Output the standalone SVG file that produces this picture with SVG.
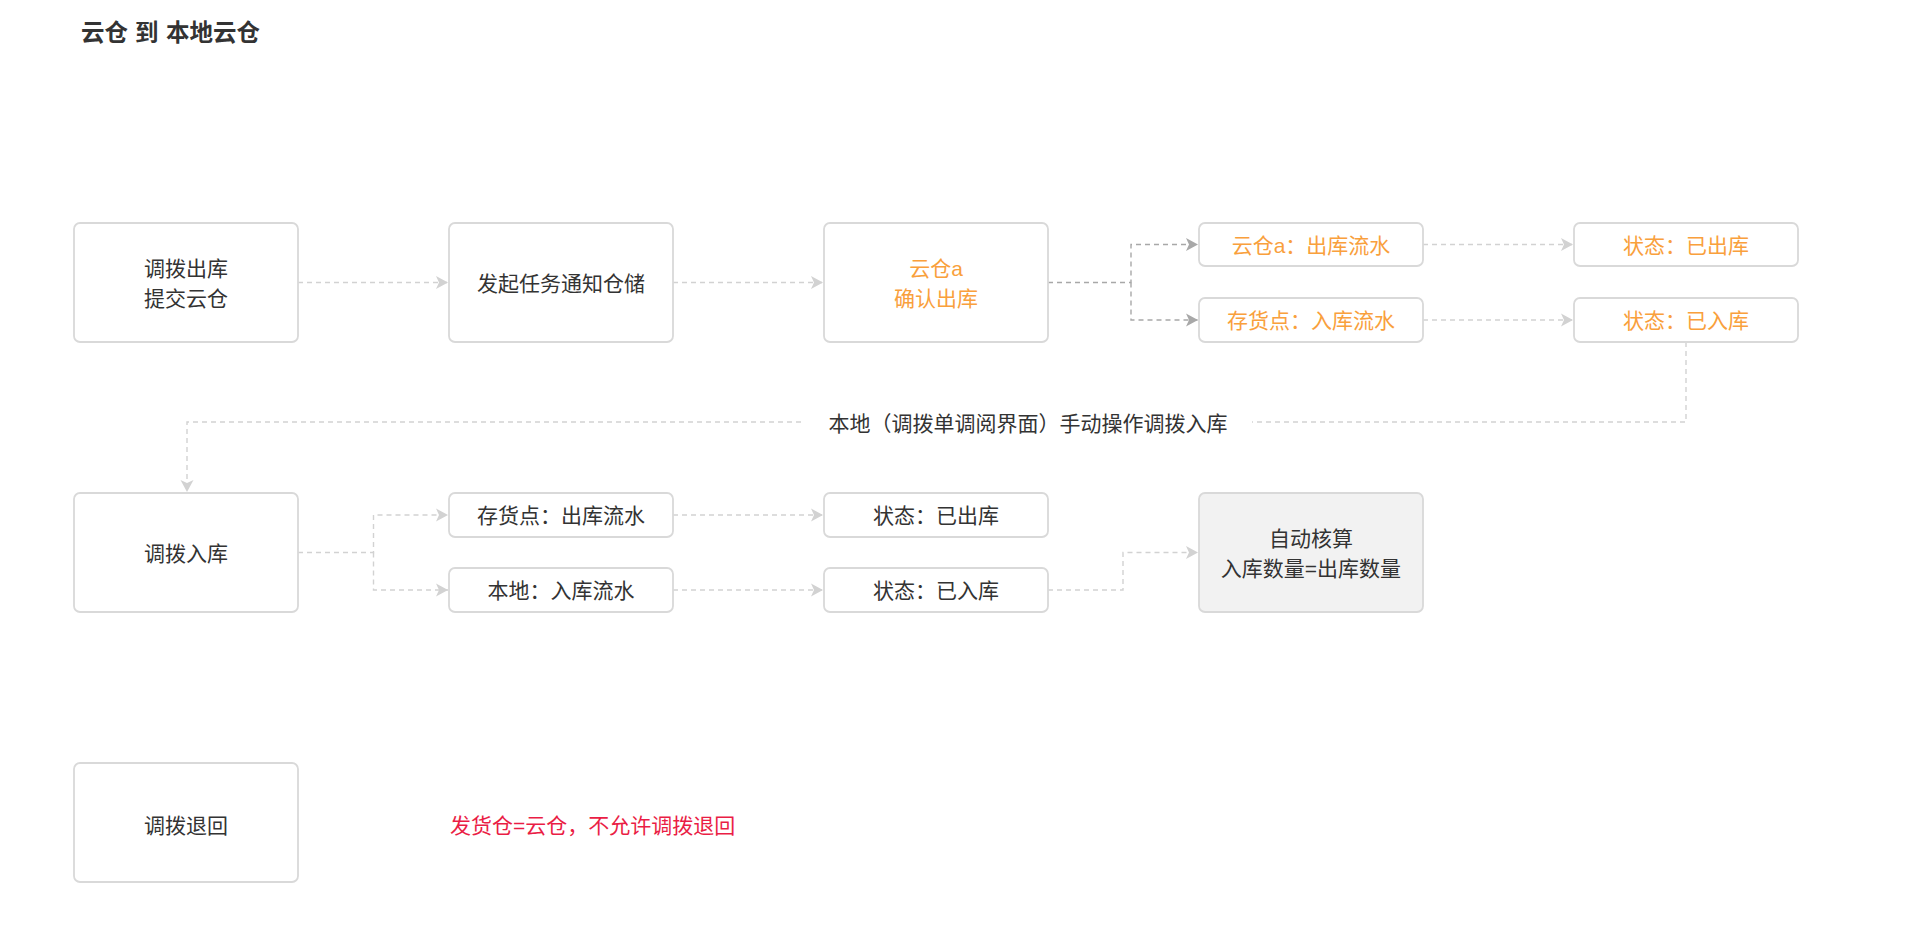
<svg xmlns="http://www.w3.org/2000/svg" width="1906" height="943" viewBox="0 0 1906 943">
<style>
text{font-family:'Liberation Sans','Noto Sans CJK SC',sans-serif;font-size:21px;fill:#333;text-anchor:middle;dominant-baseline:central}
.title{font-size:23.5px;font-weight:bold;text-anchor:start;fill:#333}
.box{fill:#fff;stroke:#d9d9d9;stroke-width:1.8}
.gray{fill:#f2f2f2}
.or{fill:#f9a03c}
.red{fill:#ea1d45;text-anchor:start}
.ln{fill:none;stroke:#d2d2d2;stroke-width:1.4;stroke-dasharray:5 4}
.dk{stroke:#a8a8a8}
</style>
<defs>
<marker id="al" markerUnits="userSpaceOnUse" markerWidth="14" markerHeight="14" refX="12" refY="7" orient="auto">
<path d="M0,0.5 L12,7 L0,13.5 L3,7 Z" fill="#d2d2d2"/>
</marker>
<marker id="ad" markerUnits="userSpaceOnUse" markerWidth="14" markerHeight="14" refX="12" refY="7" orient="auto">
<path d="M0,0.5 L12,7 L0,13.5 L3,7 Z" fill="#a8a8a8"/>
</marker>
</defs>
<rect width="1906" height="943" fill="#fff"/>
<g id="title">
<text class="title" x="81" y="33">云仓</text>
<text class="title" x="135" y="33">到</text>
<text class="title" x="166" y="33">本地云仓</text>
</g>
<g id="connectors">
<path class="ln" d="M298 282.5 H448" marker-end="url(#al)"/>
<path class="ln" d="M673 282.5 H823" marker-end="url(#al)"/>
<path class="ln dk" d="M1048 282.5 H1131 V244.5 H1198" marker-end="url(#ad)"/>
<path class="ln dk" d="M1131 282.5 V320 H1198" marker-end="url(#ad)"/>
<path class="ln" d="M1423 244.5 H1573" marker-end="url(#al)"/>
<path class="ln" d="M1423 320 H1573" marker-end="url(#al)"/>
<path class="ln" d="M1686 342 V422 H1252"/>
<path class="ln" d="M801 422 H187 V492" marker-end="url(#al)"/>
<text x="1028" y="423">本地（调拨单调阅界面）手动操作调拨入库</text>
<path class="ln" d="M298 552.5 H373.5 V515 H448" marker-end="url(#al)"/>
<path class="ln" d="M373.5 552.5 V590 H448" marker-end="url(#al)"/>
<path class="ln" d="M673 515 H823" marker-end="url(#al)"/>
<path class="ln" d="M673 590 H823" marker-end="url(#al)"/>
<path class="ln" d="M1048 590 H1123 V552.5 H1198" marker-end="url(#al)"/>
</g>
<g id="n1"><rect class="box" x="74" y="223" width="224" height="119" rx="6"/><text x="186" y="268">调拨出库</text><text x="186" y="298">提交云仓</text></g>
<g id="n2"><rect class="box" x="449" y="223" width="224" height="119" rx="6"/><text x="561" y="283">发起任务通知仓储</text></g>
<g id="n3"><rect class="box" x="824" y="223" width="224" height="119" rx="6"/><text class="or" x="936" y="268">云仓a</text><text class="or" x="936" y="298">确认出库</text></g>
<g id="n4"><rect class="box" x="1199" y="223" width="224" height="43" rx="6"/><text class="or" x="1311" y="245">云仓a：出库流水</text></g>
<g id="n5"><rect class="box" x="1199" y="298" width="224" height="44" rx="6"/><text class="or" x="1311" y="320">存货点：入库流水</text></g>
<g id="n6"><rect class="box" x="1574" y="223" width="224" height="43" rx="6"/><text class="or" x="1686" y="245">状态：已出库</text></g>
<g id="n7"><rect class="box" x="1574" y="298" width="224" height="44" rx="6"/><text class="or" x="1686" y="320">状态：已入库</text></g>
<g id="n8"><rect class="box" x="74" y="493" width="224" height="119" rx="6"/><text x="186" y="553">调拨入库</text></g>
<g id="n9"><rect class="box" x="449" y="493" width="224" height="44" rx="6"/><text x="561" y="515">存货点：出库流水</text></g>
<g id="n10"><rect class="box" x="449" y="568" width="224" height="44" rx="6"/><text x="561" y="590">本地：入库流水</text></g>
<g id="n11"><rect class="box" x="824" y="493" width="224" height="44" rx="6"/><text x="936" y="515">状态：已出库</text></g>
<g id="n12"><rect class="box" x="824" y="568" width="224" height="44" rx="6"/><text x="936" y="590">状态：已入库</text></g>
<g id="n13"><rect class="box gray" x="1199" y="493" width="224" height="119" rx="6"/><text x="1311" y="538">自动核算</text><text x="1311" y="568">入库数量=出库数量</text></g>
<g id="n14"><rect class="box" x="74" y="763" width="224" height="119" rx="6"/><text x="186" y="825">调拨退回</text></g>
<g id="note"><text class="red" x="450" y="825">发货仓=云仓，不允许调拨退回</text></g>
</svg>
